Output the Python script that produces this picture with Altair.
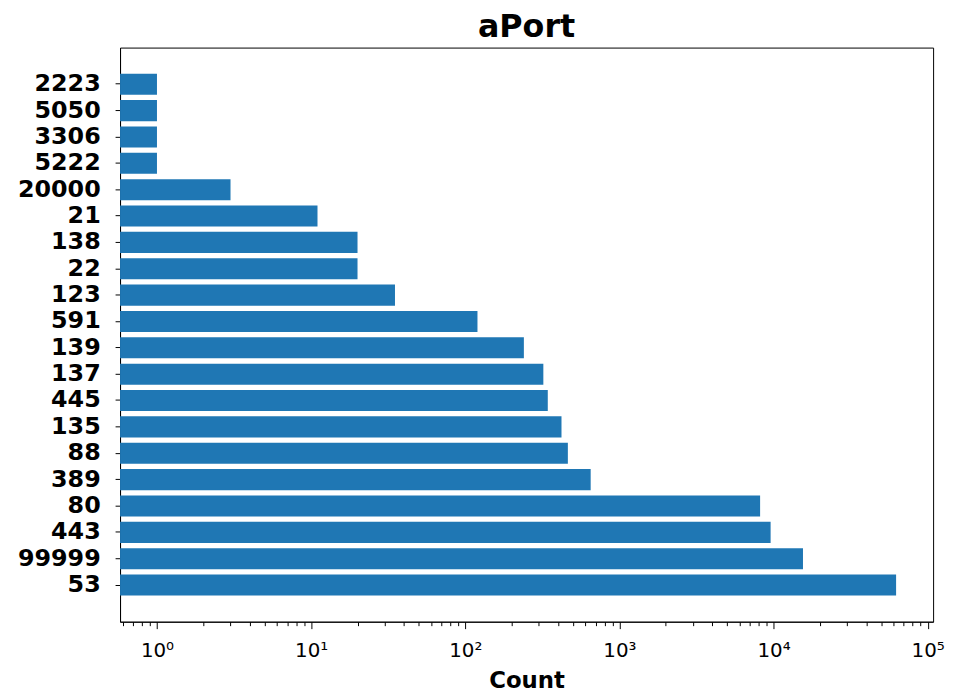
import altair as alt
import pandas as pd

# Data (top to bottom as in the reference)
ports = ["2223", "5050", "3306", "5222", "20000", "21", "138", "22", "123", "591",
         "139", "137", "445", "135", "88", "389", "80", "443", "99999", "53"]
counts = [1, 1, 1, 1, 3, 11, 20, 20, 35, 120,
          240, 321, 343, 421, 463, 651, 8180, 9570, 15520, 62370]

major_ticks = [1, 10, 100, 1000, 10000, 100000]
tick_labels = ["10⁰", "10¹", "10²", "10³", "10⁴", "10⁵"]
x_domain = [0.576, 108400]

# Minor tick positions (matplotlib-style log ticks)
minor_ticks = [round(m * 10 ** e, 6) for e in range(-1, 5) for m in range(2, 10)]
minor_ticks = [v for v in minor_ticks if x_domain[0] <= v <= x_domain[1]]
all_ticks = sorted(minor_ticks + major_ticks)

PLOT_W, PLOT_H = 820, 579

df = pd.DataFrame({"port": ports, "n": counts})

label_expr = " : ".join(
    f"datum.value == {v} ? '{l}'" for v, l in zip(major_ticks, tick_labels)
) + " : ''"
major_test = "indexof([1,10,100,1000,10000,100000], datum.value) >= 0"

x_scale = alt.Scale(type="log", domain=x_domain, nice=False)

chart = alt.Chart(df).transform_calculate(
    base=f"{x_domain[0]}"
).mark_bar(color="#1f77b4").encode(
    y=alt.Y(
        "port:N",
        sort=None,
        title=None,
        scale=alt.Scale(paddingInner=0.2, paddingOuter=0.99),
        axis=alt.Axis(
            labelFont="DejaVu Sans",
            labelFontWeight="bold",
            labelFontSize=24,
            labelColor="black",
            tickSize=5,
            tickColor="black",
            labelPadding=15,
            domainColor="black",
            grid=False,
        ),
    ),
    x=alt.X(
        "n:Q",
        title="Count",
        scale=x_scale,
        axis=alt.Axis(
            values=all_ticks,
            labelExpr=label_expr,
            labelFont="DejaVu Sans",
            labelFontSize=20,
            labelColor="black",
            labelPadding=12,
            tickColor="black",
            tickSize={"condition": {"test": major_test, "value": 7}, "value": 4},
            domainColor="black",
            grid=False,
            titleFont="DejaVu Sans",
            titleFontWeight="bold",
            titleFontSize=23,
            titleColor="black",
            titlePadding=9,
            labelOverlap=False,
        ),
    ),
    x2="base:Q",
).properties(
    width=PLOT_W,
    height=PLOT_H,
    title=alt.TitleParams(
        "aPort", font="DejaVu Sans", fontSize=32, fontWeight="bold",
        color="black", offset=4, anchor="middle",
    ),
    padding={"left": 9, "top": 0, "right": 0, "bottom": 0},
).configure_view(
    stroke="black", strokeWidth=1
)

chart.save("out.html", embed_options={"renderer": "svg", "actions": False})
